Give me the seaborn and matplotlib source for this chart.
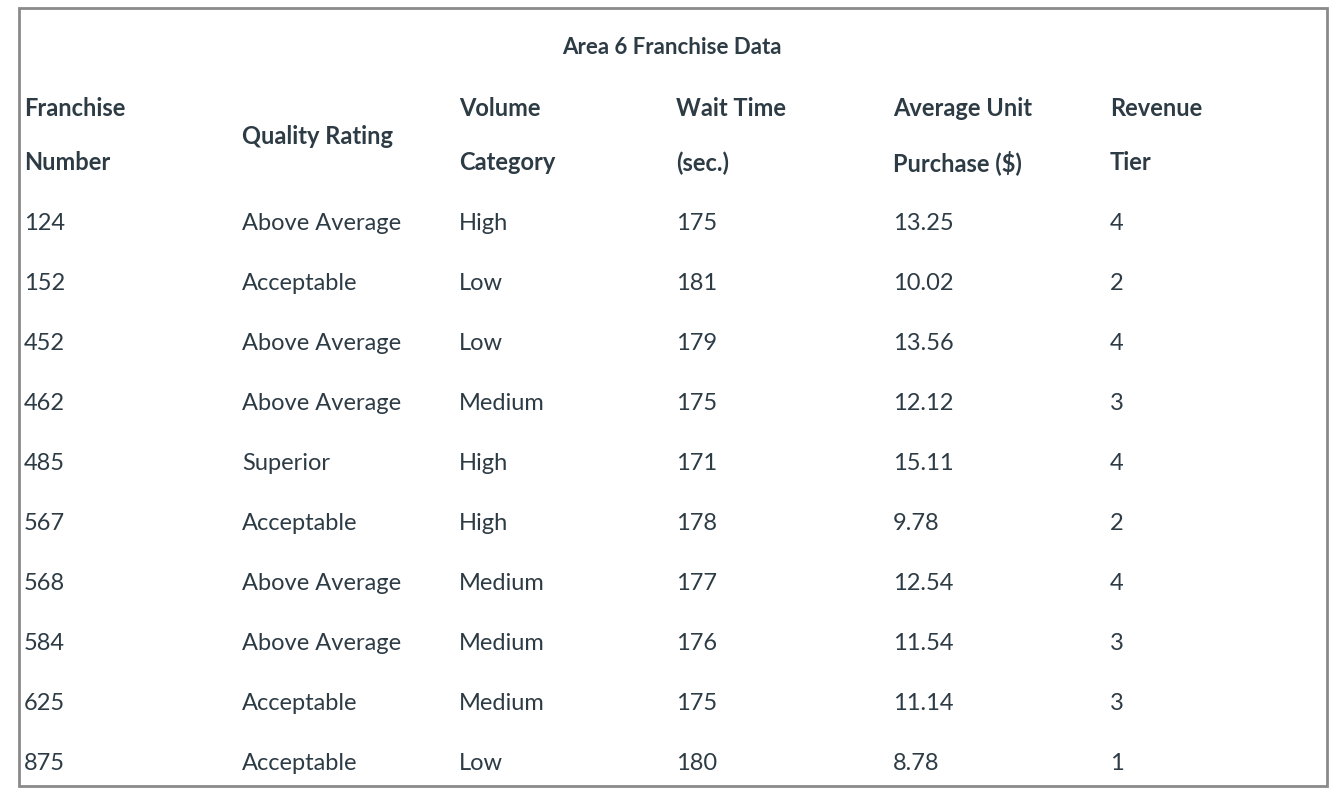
import matplotlib
matplotlib.use("Agg")
import matplotlib.pyplot as plt
import seaborn as sns
from matplotlib.patches import Rectangle

sns.set_theme(style="white", font="Lato")

title = "Area 6 Franchise Data"
headers = [("Franchise", "Number"), ("Quality Rating",), ("Volume", "Category"),
           ("Wait Time", "(sec.)"), ("Average Unit", "Purchase ($)"), ("Revenue", "Tier")]
franchise = ["124", "152", "452", "462", "485", "567", "568", "584", "625", "875"]
quality = ["Above Average", "Acceptable", "Above Average", "Above Average", "Superior",
           "Acceptable", "Above Average", "Above Average", "Acceptable", "Acceptable"]
volume = ["High", "Low", "Low", "Medium", "High", "High", "Medium", "Medium", "Medium", "Low"]
wait = ["175", "181", "179", "175", "171", "178", "177", "176", "175", "180"]
purchase = ["13.25", "10.02", "13.56", "12.12", "15.11", "9.78", "12.54", "11.54", "11.14", "8.78"]
tier = ["4", "2", "4", "3", "4", "2", "4", "3", "3", "1"]

cols = [franchise, quality, volume, wait, purchase, tier]
col_x = [24, 242, 459, 676, 893, 1110]
txt = "#2d3b45"
fs = 17

fig = plt.figure(figsize=(13.36, 7.99), dpi=100)
ax = fig.add_axes([0, 0, 1, 1])
ax.set_xlim(0, 1336)
ax.set_ylim(799, 0)
ax.axis("off")

ax.add_patch(Rectangle((19, 8), 1308, 778, fill=False, edgecolor="#8a8a8a", lw=2))
ax.text(672, 48, title, ha="center", va="center", fontsize=16, fontweight="bold", color=txt)

for x, h in zip(col_x, headers):
    if len(h) == 2:
        ax.text(x, 109, h[0], va="center", fontsize=fs, fontweight="bold", color=txt)
        ax.text(x, 163, h[1], va="center", fontsize=fs, fontweight="bold", color=txt)
    else:
        ax.text(x, 136, h[0], va="center", fontsize=fs, fontweight="bold", color=txt)

for x, col in zip(col_x, cols):
    for i, v in enumerate(col):
        ax.text(x, 223 + 60 * i, v, va="center", fontsize=fs, color=txt)

fig.savefig("out.png", dpi=100, facecolor="white")
